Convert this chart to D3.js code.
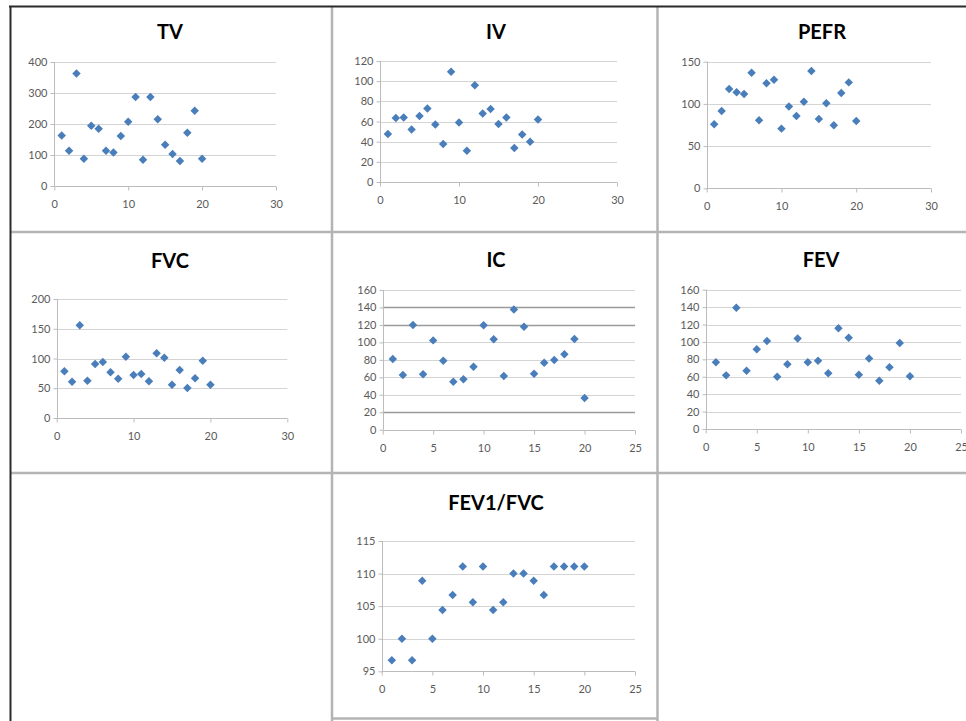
<!DOCTYPE html>
<html>
<head>
<meta charset="utf-8">
<script src="https://cdn.jsdelivr.net/npm/d3@7"></script>
<style>
  html, body { margin: 0; padding: 0; background: #fff; }
  svg { display: block; }
</style>
</head>
<body>
<svg id="chart" width="966" height="721"></svg>
<script>
// ---- data ----
const subjects = [1,2,3,4,5,6,7,8,9,10,11,12,13,14,15,16,17,18,19,20];
const tvValues   = [163,114,363,88,194,185,114,108,161,207,287,85,287,215,133,103,81,172,243,88];
const ivValues   = [47.6,63.5,64,52,65.5,73,57,37.7,109.4,59,31,96,68,72.4,57.5,64,33.7,47,40,62];
const pefrValues = [75.8,91.6,117.6,113.7,111.7,137,80.5,124.4,128.7,70.7,97,85.7,102.6,139,82,100.7,74.6,113,125.5,79.7];
const fvcValues  = [78.4,61,155.7,62.7,90.8,94,76.8,66,103,72.3,74,61.6,108.7,101.4,56,80.7,50.4,66.7,96.4,56];
const icValues   = [81,62.6,120,63.4,102.3,79,55,57.7,72.2,119.5,103.5,61.5,137.8,118,64,76.7,79.8,86.3,103.9,36.3];
const fevValues  = [76.6,61.6,139.3,67,91.5,101,60,74.3,104,76.6,78.5,64,115.6,104.9,62.4,81,55.5,70.8,98.8,60.5];
const ratioValues = [96.7,100,96.7,108.9,100,104.4,106.7,111.1,105.6,111.1,104.4,105.6,110,110,108.9,106.7,111.1,111.1,111.1,111.1];

const titles = ["TV","IV","PEFR","FVC","IC","FEV","FEV1/FVC"];
const xTicks30 = [0,10,20,30];
const xTicks25 = [0,5,10,15,20,25];
const tvTicks = [0,100,200,300,400];
const ivTicks = [0,20,40,60,80,100,120];
const pefrTicks = [0,50,100,150];
const fvcTicks = [0,50,100,150,200];
const icTicks = [0,20,40,60,80,100,120,140,160];
const fevTicks = [0,20,40,60,80,100,120,140,160];
const ratioTicks = [95,100,105,110,115];

// ---- layout (pixel geometry of each panel) ----
const panels = [
  {title: titles[0], values: tvValues,   xTicks: xTicks30, yTicks: tvTicks,   px:[54.3,276],  py:[186,62],   tx:170, ty:32},
  {title: titles[1], values: ivValues,   xTicks: xTicks30, yTicks: ivTicks,   px:[380,617],   py:[182,61],   tx:496, ty:32},
  {title: titles[2], values: pefrValues, xTicks: xTicks30, yTicks: pefrTicks, px:[706.7,931], py:[188.3,61.7], tx:822, ty:32},
  {title: titles[3], values: fvcValues,  xTicks: xTicks30, yTicks: fvcTicks,  px:[56.7,287.3], py:[418,299], tx:170, ty:261},
  {title: titles[4], values: icValues,   xTicks: xTicks25, yTicks: icTicks,   px:[382.7,635], py:[429.7,290], tx:496, ty:260, darkGrid:[20,120,140]},
  {title: titles[5], values: fevValues,  xTicks: xTicks25, yTicks: fevTicks,  px:[705.7,961], py:[429,289.7], tx:821, ty:260},
  {title: titles[6], values: ratioValues, xTicks: xTicks25, yTicks: ratioTicks, px:[381.7,635], py:[671.3,541], tx:496, ty:503}
];

const svg = d3.select("#chart");
const FONT = "Lato, 'Open Sans', 'Liberation Sans', sans-serif";

// ---- panel frames ----
const frame = svg.append("g").attr("class","frames");
const gray = "#b4b4b4";
[[10,232,966,232],[10,473,966,473],[332,6,332,721],[657.5,6,657.5,721],[332,718.5,657.5,718.5]].forEach(l => {
  frame.append("line").attr("x1",l[0]).attr("y1",l[1]).attr("x2",l[2]).attr("y2",l[3])
    .attr("stroke",gray).attr("stroke-width",2.5);
});
frame.append("line").attr("x1",9).attr("y1",6.5).attr("x2",966).attr("y2",6.5).attr("stroke","#2b2b2b").attr("stroke-width",2);
frame.append("line").attr("x1",10.5).attr("y1",6).attr("x2",10.5).attr("y2",721).attr("stroke","#2b2b2b").attr("stroke-width",2);

// ---- panels ----
panels.forEach(p => {
  const g = svg.append("g");
  const xMax = p.xTicks[p.xTicks.length-1];
  const x = d3.scaleLinear().domain([0, xMax]).range(p.px);
  const y = d3.scaleLinear().domain([p.yTicks[0], p.yTicks[p.yTicks.length-1]]).range(p.py);

  // gridlines
  g.append("g").selectAll("line").data(p.yTicks.slice(1)).join("line")
    .attr("x1", p.px[0]).attr("x2", p.px[1])
    .attr("y1", d => Math.round(y(d)) + 0.5).attr("y2", d => Math.round(y(d)) + 0.5)
    .attr("stroke", d => (p.darkGrid && p.darkGrid.includes(d)) ? "#9a9a9a" : "#d4d4d4")
    .attr("stroke-width", d => (p.darkGrid && p.darkGrid.includes(d)) ? 1.5 : 1);

  // y axis
  const yAxis = g.append("g")
    .attr("transform", `translate(${Math.round(p.px[0]) + 0.5},0)`)
    .call(d3.axisLeft(y).tickValues(p.yTicks).tickSize(4).tickPadding(3).tickFormat(d3.format("d")));
  // x axis
  const xAxis = g.append("g")
    .attr("transform", `translate(0,${Math.round(p.py[0]) + 0.5})`)
    .call(d3.axisBottom(x).tickValues(p.xTicks).tickSize(4).tickPadding(10).tickFormat(d3.format("d")));
  [yAxis, xAxis].forEach(a => {
    a.select(".domain").attr("stroke", "#bcbcbc");
    a.selectAll(".tick line").attr("stroke", "#bcbcbc");
    a.selectAll(".tick text").attr("fill", "#5a5a5a").attr("font-family", FONT).attr("font-size", 11);
  });
  xAxis.select(".domain").attr("d", `M${p.px[0]},0H${p.px[1]}`);
  yAxis.select(".domain").attr("d", `M0,${p.py[0]}V${p.py[1]}`);

  // title
  g.append("text").attr("x", p.tx).attr("y", p.ty + 7)
    .attr("text-anchor","middle").attr("font-family", FONT).attr("font-weight","bold")
    .attr("font-size", 20).attr("fill","#000").text(p.title);

  // points
  const diamond = d3.symbol().type(d3.symbolSquare).size(36);
  g.append("g").selectAll("path").data(subjects.map((s,i) => [s, p.values[i]])).join("path")
    .attr("d", diamond)
    .attr("transform", d => `translate(${x(d[0])},${y(d[1])}) rotate(45)`)
    .attr("fill", "#4a7ebb");
});
</script>
</body>
</html>
